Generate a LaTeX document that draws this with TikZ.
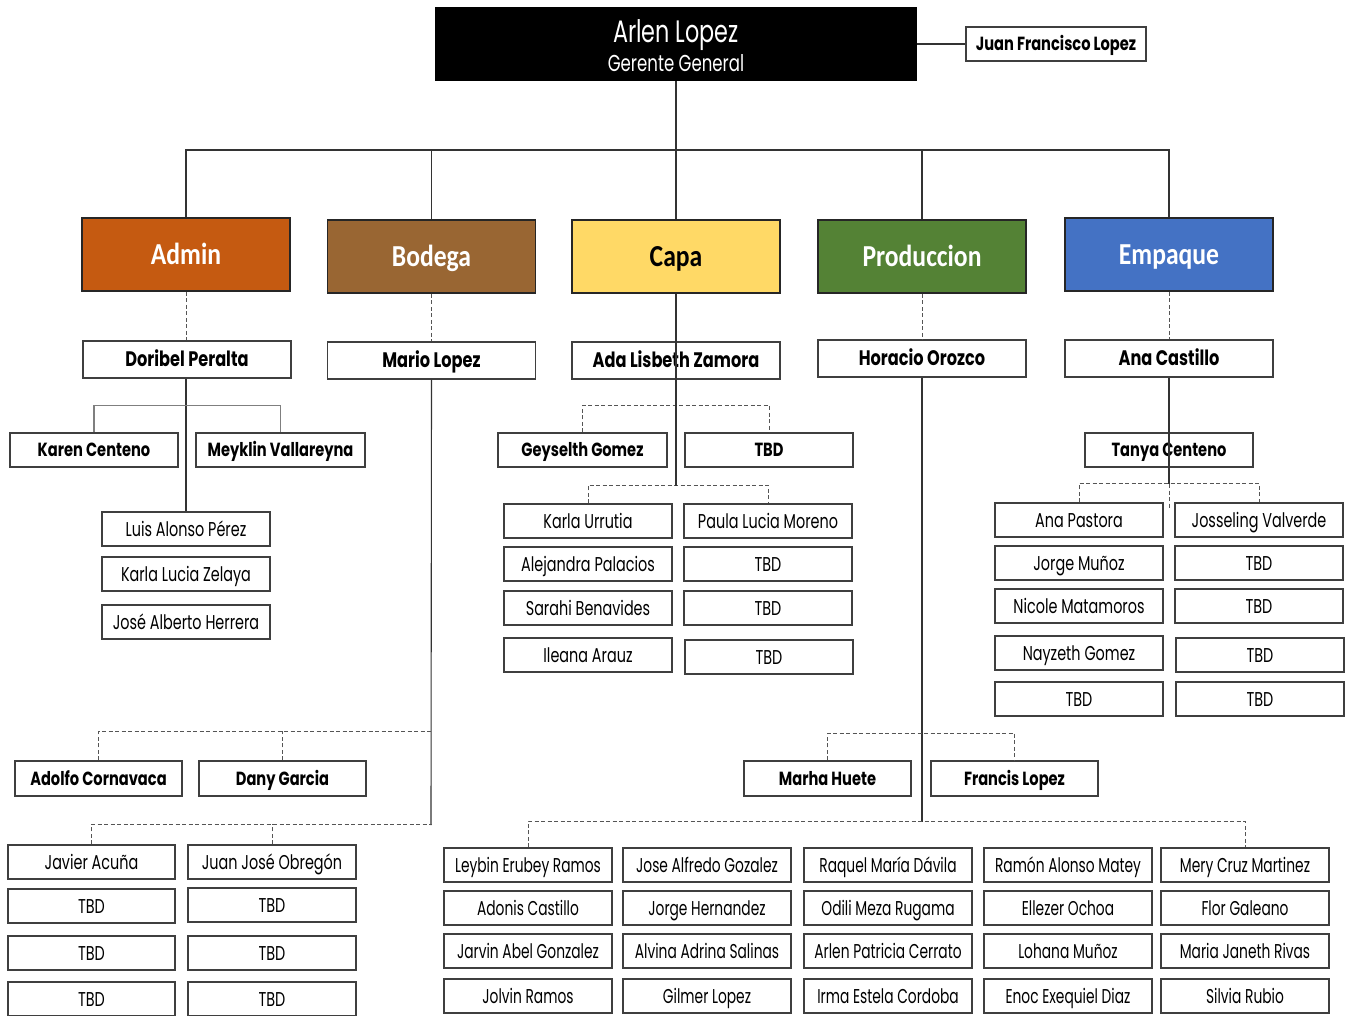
\documentclass[tikz,border=0pt]{standalone}
\usepackage{fontspec}
\setmainfont{Poppins}[FakeStretch=0.72, BoldFeatures={FakeStretch=0.77}]
\newfontfamily\prodfont{Poppins}[FakeStretch=0.69]
\newfontfamily\deptfont{Carlito}[FakeStretch=0.84]
\definecolor{linec}{HTML}{333333}
\definecolor{boxc}{HTML}{3F3F3F}
\definecolor{dashc}{HTML}{555555}
\definecolor{grayc}{HTML}{7F7F7F}
\definecolor{deptc}{HTML}{262626}
\definecolor{cadmin}{HTML}{C55A11}
\definecolor{cbodega}{HTML}{996633}
\definecolor{ccapa}{HTML}{FFD966}
\definecolor{cprod}{HTML}{548235}
\definecolor{cempaque}{HTML}{4472C4}
\tikzset{
 ln/.style={draw=linec, line width=1.1pt},
 dl/.style={draw=dashc, line width=1pt, dash pattern=on 4pt off 2.5pt},
 gl/.style={draw=grayc, line width=1.1pt},
 pb/.style={draw=boxc, line width=1.3pt, fill=white, minimum width=168, minimum height=34, inner sep=0pt, text height=14pt, text depth=0pt, font=\fontsize{20}{22}\selectfont},
 pp/.style={pb, font=\prodfont\fontsize{20}{22}\selectfont},
 pbb/.style={pb, text height=13.3pt, font=\fontsize{19}{21}\selectfont\bfseries},
 lv/.style={pb, minimum width=208, minimum height=37, text height=14.6pt, font=\fontsize{21}{23}\selectfont\bfseries},
 dept/.style={draw=deptc, line width=1.5pt, minimum width=208, minimum height=73, inner sep=0pt, text height=19.4pt, text depth=0pt, font=\deptfont\fontsize{30.5}{32}\selectfont\bfseries, text=white},
 ttl/.style={inner sep=0pt, text=white, text depth=0pt},
}
\begin{document}
\begin{tikzpicture}[x=1pt,y=-1pt]
\useasboundingbox[fill=white] (0,0) rectangle (1346,1015);
% top
\node[fill=black, minimum width=482, minimum height=74, inner sep=0pt] (top) at (676,44) {};
\node[ttl, text height=21.6pt, font=\fontsize{31}{33}\selectfont] (topname) at (676,32) {Arlen Lopez};
\node[ttl, text height=16pt, font=\fontsize{23}{25}\selectfont] (toprole) at (676,63) {Gerente General};
\node[pbb, minimum width=180] (jfl) at (1056,44) {Juan Francisco Lopez};
% departments
\node[dept, fill=cadmin] (admin) at (186,254.5) {Admin};
\node[dept, fill=cbodega] (bodega) at (431.5,256.5) {Bodega};
\node[dept, fill=ccapa, text=black] (capa) at (676,256.5) {Capa};
\node[dept, fill=cprod] (prod) at (922,256.5) {Produccion};
\node[dept, fill=cempaque] (emp) at (1169,254.5) {Empaque};
% level 2
\node[lv] (dori) at (187,359.5) {Doribel Peralta};
\node[lv] (mario) at (431.5,360.5) {Mario Lopez};
\node[lv] (ada) at (676,360.5) {Ada Lisbeth Zamora};
\node[lv] (hor) at (922,358.5) {Horacio Orozco};
\node[lv] (anac) at (1169,358.5) {Ana Castillo};
% admin subtree
\node[pbb] (karen) at (94,450) {Karen Centeno};
\node[pbb, minimum width=169] (meyk) at (280.5,450) {Meyklin Vallareyna};
\node[pb] (luis) at (186,529) {Luis Alonso Pérez};
\node[pb] (kzel) at (186,574) {Karla Lucia Zelaya};
\node[pb] (jah) at (186,622) {José Alberto Herrera};
% capa subtree
\node[pbb, minimum width=169] (gey) at (582.5,450) {Geyselth Gomez};
\node[pbb] (ctbd) at (769,450) {TBD};
\node[pb] (kur) at (588,521) {Karla Urrutia};
\node[pb] (paula) at (768,521) {Paula Lucia Moreno};
\node[pb] (alej) at (588,564) {Alejandra Palacios};
\node[pb] (ct1) at (768,564) {TBD};
\node[pb] (sara) at (588,608) {Sarahi Benavides};
\node[pb] (ct2) at (768,608) {TBD};
\node[pb] (ilea) at (588,655) {Ileana Arauz};
\node[pb] (ct3) at (769,657) {TBD};
% empaque subtree
\node[pbb] (tanya) at (1169,450) {Tanya Centeno};
\node[pb] (anap) at (1079,520) {Ana Pastora};
\node[pb] (joss) at (1259,520) {Josseling Valverde};
\node[pb] (jmun) at (1079,563) {Jorge Muñoz};
\node[pb] (et1) at (1259,563) {TBD};
\node[pb] (nico) at (1079,606) {Nicole Matamoros};
\node[pb] (et2) at (1259,606) {TBD};
\node[pb] (nayz) at (1079,653) {Nayzeth Gomez};
\node[pb] (et3) at (1260,655) {TBD};
\node[pb] (et4) at (1079,699) {TBD};
\node[pb] (et5) at (1260,699) {TBD};
% bodega subtree
\node[pbb, minimum width=167, minimum height=35] (adol) at (98.5,778.5) {Adolfo Cornavaca};
\node[pbb, minimum width=167, minimum height=35] (dany) at (282.5,778.5) {Dany Garcia};
\node[pb, minimum width=167] (jav) at (91.5,862) {Javier Acuña};
\node[pb] (jjo) at (272,862) {Juan José Obregón};
\node[pb, minimum width=167] (bt1) at (91.5,906) {TBD};
\node[pb] (bt2) at (272,905) {TBD};
\node[pb, minimum width=167] (bt3) at (91.5,953) {TBD};
\node[pb] (bt4) at (272,953) {TBD};
\node[pb, minimum width=167] (bt5) at (91.5,999) {TBD};
\node[pb] (bt6) at (272,999) {TBD};
% produccion subtree
\node[pbb, minimum width=167, minimum height=35] (marha) at (827.5,778.5) {Marha Huete};
\node[pbb, minimum width=167, minimum height=35] (fran) at (1014.5,778.5) {Francis Lopez};
\node[pp] (p11) at (528,865) {Leybin Erubey Ramos};
\node[pp] (p12) at (707,865) {Jose Alfredo Gozalez};
\node[pp] (p13) at (888,865) {Raquel María Dávila};
\node[pp] (p14) at (1068,865) {Ramón Alonso Matey};
\node[pp] (p15) at (1245,865) {Mery Cruz Martinez};
\node[pp] (p21) at (528,908) {Adonis Castillo};
\node[pp] (p22) at (707,908) {Jorge Hernandez};
\node[pp] (p23) at (888,908) {Odili Meza Rugama};
\node[pp] (p24) at (1068,908) {Ellezer Ochoa};
\node[pp] (p25) at (1245,908) {Flor Galeano};
\node[pp] (p31) at (528,951) {Jarvin Abel Gonzalez};
\node[pp] (p32) at (707,951) {Alvina Adrina Salinas};
\node[pp] (p33) at (888,951) {Arlen Patricia Cerrato};
\node[pp] (p34) at (1068,951) {Lohana Muñoz};
\node[pp] (p35) at (1245,951) {Maria Janeth Rivas};
\node[pp] (p41) at (528,996) {Jolvin Ramos};
\node[pp] (p42) at (707,996) {Gilmer Lopez};
\node[pp] (p43) at (888,996) {Irma Estela Cordoba};
\node[pp] (p44) at (1068,996) {Enoc Exequiel Diaz};
\node[pp] (p45) at (1245,996) {Silvia Rubio};
% coordinates
\coordinate (bus) at (676,150);
\coordinate (capaend) at (676,486);
\coordinate (empend) at (1169,484);
\coordinate (empdash) at (1169,508);
\coordinate (bodend) at (431,825);
\coordinate (prodend) at (922,822);
% connectors top
\draw[ln] (top.east) -- (jfl.west);
\draw[ln] (top.south) -- (bus);
\draw[ln] (admin.north) |- (bus);
\draw[ln] (emp.north) |- (bus);
\draw[ln] (bodega.north) -- (bodega.north |- bus);
\draw[ln] (capa.north) -- (bus);
\draw[ln] (prod.north) -- (prod.north |- bus);
% dept to level2
\draw[dl] (admin.south) -- (admin.south |- dori.north);
\draw[dl] (bodega.south) -- (mario.north);
\draw[dl] (prod.south) -- (hor.north);
\draw[dl] (emp.south) -- (anac.north);
% admin
\draw[ln] (dori.south -| admin.south) -- (luis.north -| admin.south);
\draw[gl] (karen.north) -- ++(0,-27) -| (meyk.north);
% capa
\draw[dl] (gey.north) -- ++(0,-27) -| (ctbd.north);
\draw[dl] (kur.north) -- ++(0,-18) -| (paula.north);
\draw[ln] (capa.south) -- (capaend);
% empaque
\draw[dl] (anap.north) -- ++(0,-19) -| (joss.north);
\draw[ln] (anac.south) -- (empend);
\draw[dl] (empend) -- (empdash);
% bodega
\draw[ln] (mario.south) -- (bodend);
\draw[dl] (adol.north) -- ++(0,-29) -| (mario.south |- 0,732);
\draw[dl] (dany.north) -- ++(0,-29);
\draw[dl] (jav.north) -- ++(0,-20) -| (bodend);
\draw[dl] (jjo.north) -- ++(0,-20);
% produccion
\draw[ln] (hor.south) -- (prodend);
\draw[dl] (marha.north) -- ++(0,-27) -| (fran.north);
\draw[dl] (p11.north) -- ++(0,-26) -| (p15.north);
\end{tikzpicture}
\end{document}
